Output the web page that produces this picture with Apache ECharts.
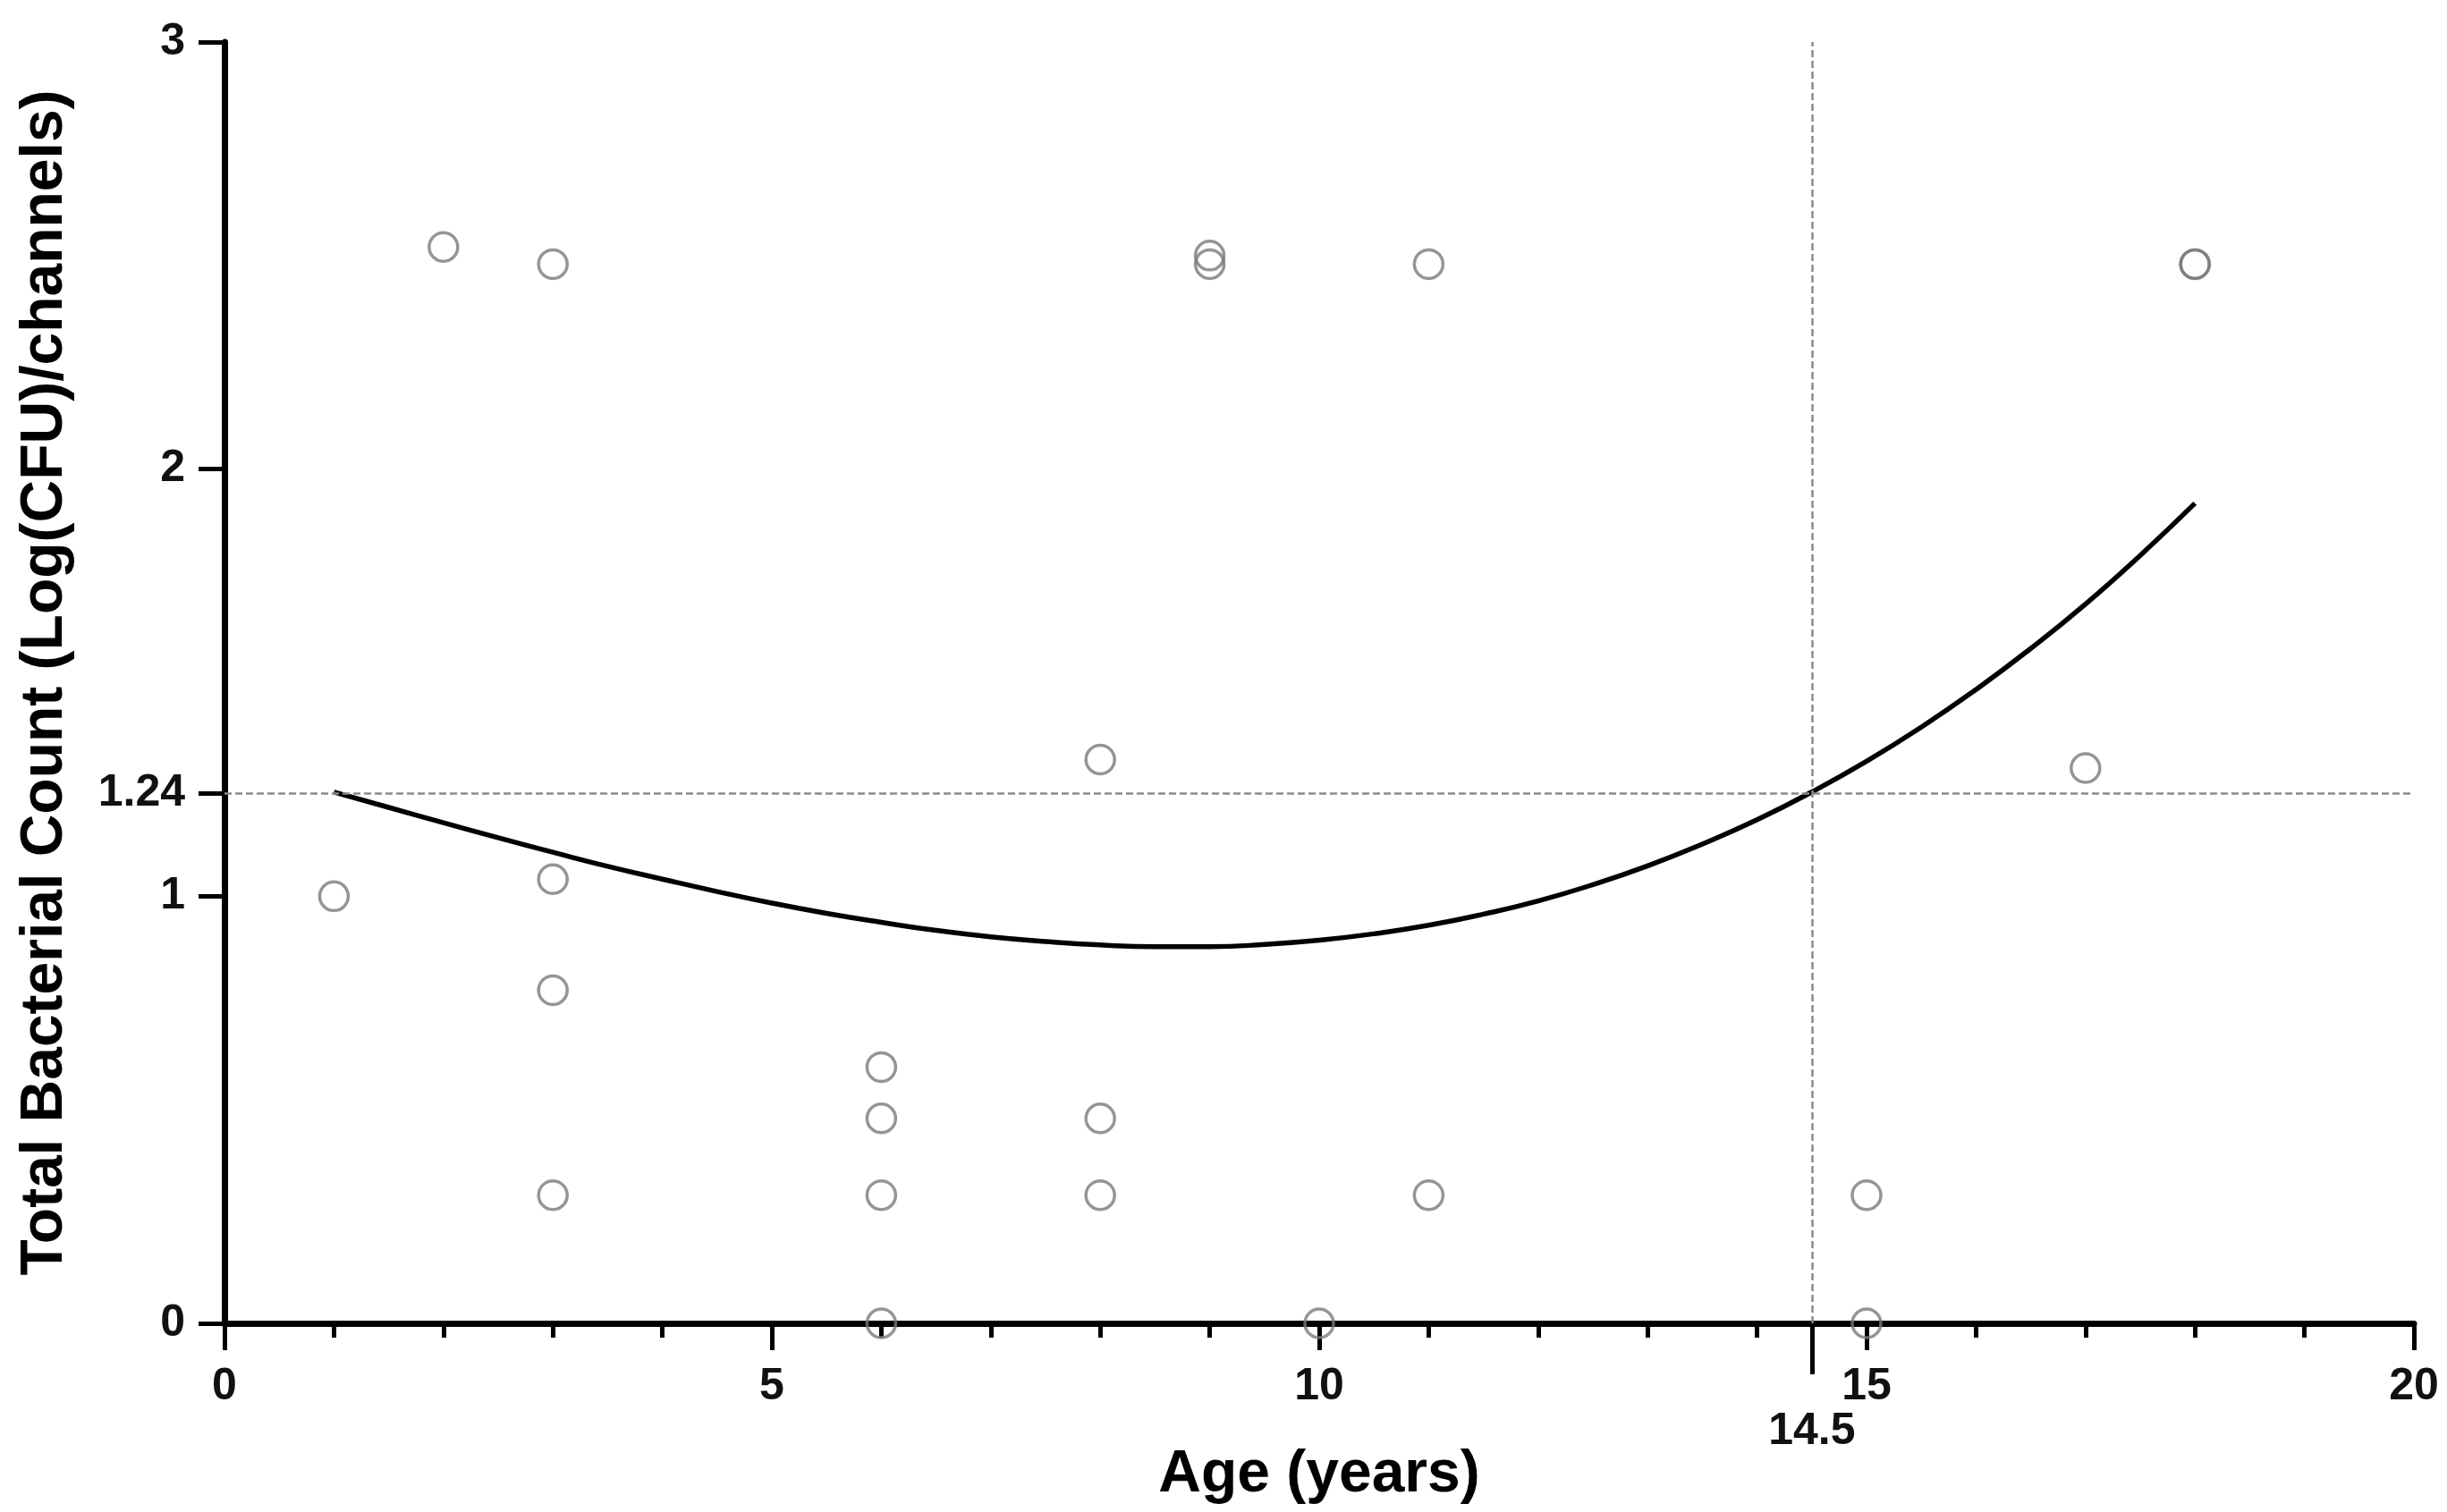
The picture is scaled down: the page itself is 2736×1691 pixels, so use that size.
<!DOCTYPE html>
<html>
<head>
<meta charset="utf-8">
<script src="https://cdn.jsdelivr.net/npm/echarts@6/dist/echarts.min.js"></script>
<style>
html,body{margin:0;padding:0;background:#fff;}
#chart{width:2736px;height:1691px;}
</style>
</head>
<body>
<div id="chart"></div>
<script>
// Observed data points (age in years, total bacterial count)
const ptsX = [1, 2, 3, 3, 3, 3, 6, 6, 6, 6, 8, 8, 8, 9, 9, 10, 11, 11, 15, 15, 17, 18, 18];
const ptsY = [1.00, 2.52, 2.48, 1.04, 0.78, 0.30, 0.60, 0.48, 0.30, 0.00, 1.32, 0.48, 0.30, 2.50, 2.48, 0.00, 2.48, 0.30, 0.30, 0.00, 1.30, 2.48, 2.48];

// Fitted curve
const fitX = [1, 1.5, 2, 2.5, 3, 3.5, 4, 4.5, 5, 5.5, 6, 6.5, 7, 7.5, 8, 8.5, 9, 9.5, 10, 10.5, 11, 11.5, 12, 12.5, 13, 13.5, 14, 14.5, 15, 15.5, 16, 16.5, 17, 17.5, 18];
const fitY = [1.244, 1.208, 1.172, 1.137, 1.103, 1.070, 1.040, 1.011, 0.984, 0.960, 0.939, 0.920, 0.905, 0.894, 0.886, 0.882, 0.882, 0.887, 0.897, 0.912, 0.932, 0.958, 0.989, 1.027, 1.071, 1.122, 1.179, 1.244, 1.316, 1.396, 1.484, 1.580, 1.684, 1.798, 1.920];

// Reference lines
const refY = 1.24;
const refX = 14.5;

// Tick values
const yTicks = [0, 1, 1.24, 2, 3];
const xExtraTicks = [14.5];

const labelFont = "'Liberation Sans', Arial, sans-serif";

const chart = echarts.init(document.getElementById('chart'));
chart.setOption({
  backgroundColor: '#ffffff',
  animation: false,
  grid: { left: 251, right: 37, top: 47, bottom: 211, containLabel: false },
  xAxis: [
    {
      type: 'value', min: 0, max: 20, interval: 5,
      name: 'Age (years)', nameLocation: 'middle', nameGap: 137,
      nameTextStyle: { fontSize: 66, fontWeight: 'bold', color: '#000', fontFamily: labelFont },
      axisLine: { show: true, lineStyle: { color: '#000', width: 7 } },
      axisTick: { show: true, length: 30, lineStyle: { color: '#000', width: 5 } },
      minorTick: { show: true, splitNumber: 5, length: 16, lineStyle: { color: '#000', width: 5 } },
      axisLabel: { fontSize: 50, color: '#111', margin: 46, fontFamily: labelFont, fontWeight: 'bold' },
      splitLine: { show: false }
    },
    {
      type: 'value', min: 0, max: 20, position: 'bottom',
      axisLine: { show: false },
      axisTick: { show: true, customValues: xExtraTicks, length: 57, lineStyle: { color: '#000', width: 5 } },
      axisLabel: { show: true, customValues: xExtraTicks, fontSize: 50, color: '#111', margin: 96, fontFamily: labelFont,
        fontWeight: 'bold', formatter: v => String(v) },
      splitLine: { show: false }
    }
  ],
  yAxis: {
    type: 'value', min: 0, max: 3,
    name: 'Total Bacterial Count (Log(CFU)/channels)', nameLocation: 'middle', nameGap: 167,
    nameTextStyle: { fontSize: 66, fontWeight: 'bold', color: '#000', fontFamily: labelFont },
    axisLine: { show: true, lineStyle: { color: '#000', width: 7 } },
    axisTick: { show: true, customValues: yTicks, length: 29, lineStyle: { color: '#000', width: 5 } },
    axisLabel: { show: true, customValues: yTicks, fontSize: 50, color: '#111', margin: 44, fontFamily: labelFont,
      fontWeight: 'bold', formatter: v => String(v) },
    splitLine: { show: false }
  },
  series: [
    {
      type: 'line', xAxisIndex: 0, data: fitX.map((x, i) => [x, fitY[i]]),
      smooth: true, showSymbol: false, symbol: 'none',
      lineStyle: { color: '#000', width: 5.5 },
      z: 3,
      markLine: {
        silent: true, symbol: 'none', label: { show: false },
        lineStyle: { color: '#8a8a8a', width: 2.5, type: [8, 4] },
        data: [{ yAxis: refY }, { xAxis: refX }]
      }
    },
    {
      type: 'scatter', xAxisIndex: 0, data: ptsX.map((x, i) => [x, ptsY[i]]),
      symbol: 'circle', symbolSize: 32,
      itemStyle: { color: 'rgba(0,0,0,0)', borderColor: '#7a7a7a', borderWidth: 3.5 },
      z: 4
    }
  ]
});
</script>
</body>
</html>
